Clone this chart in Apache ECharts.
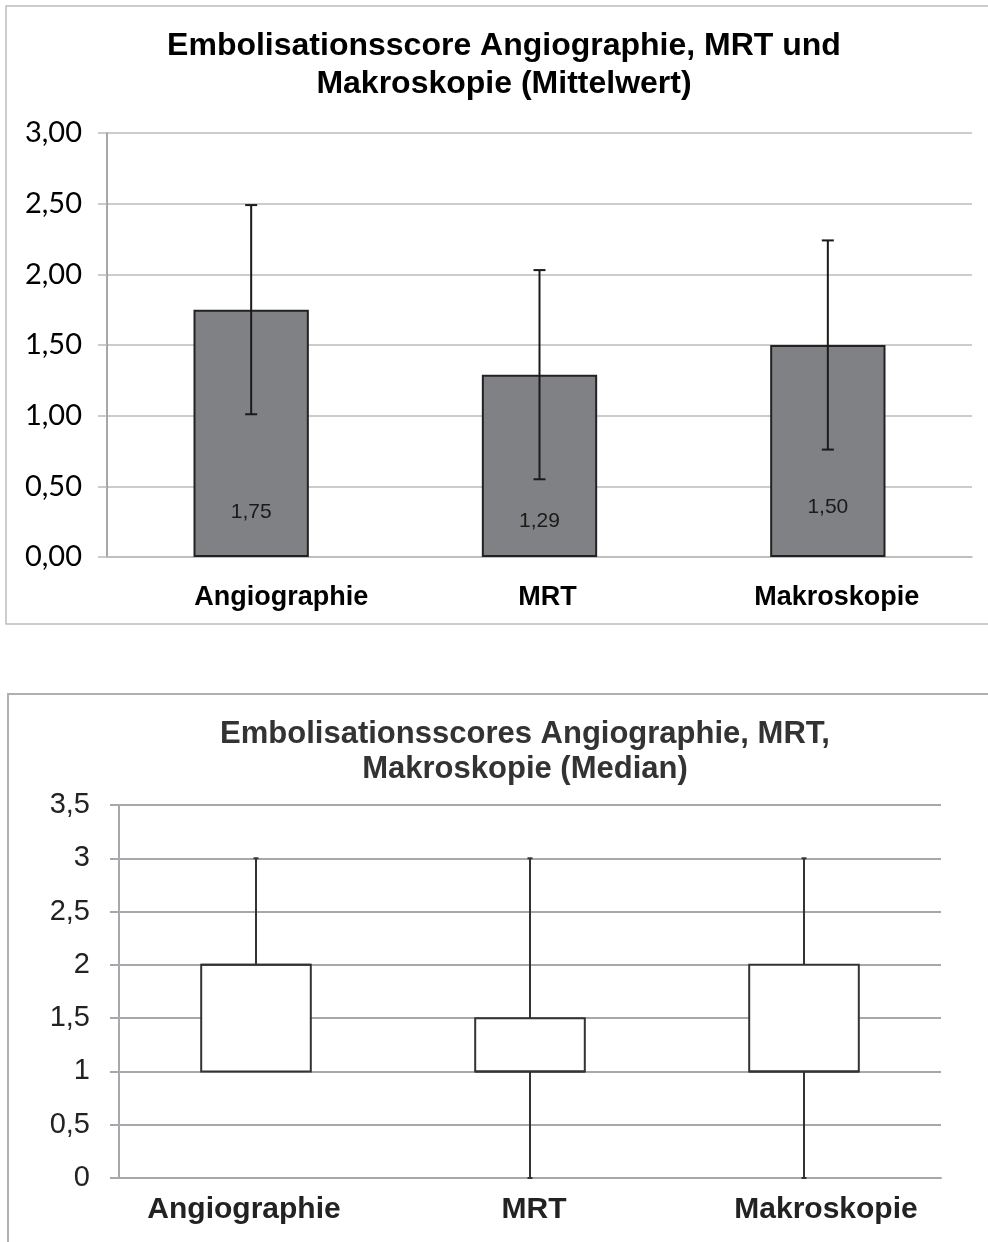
<!DOCTYPE html>
<html>
<head>
<meta charset="utf-8">
<script src="https://cdn.jsdelivr.net/npm/echarts@6/dist/echarts.min.js"></script>
<style>
html,body{margin:0;padding:0;background:#fff;}
#chart{width:988px;height:1242px;}
</style>
</head>
<body>
<div id="chart"></div>
<script>
// ---- data ----
const categories = ['Angiographie', 'MRT', 'Makroskopie'];
const meanValues = [1.75, 1.29, 1.50];
const errLow = [1.01, 0.55, 0.76];
const errHigh = [2.49, 2.03, 2.24];
const meanTicks = [0, 0.5, 1, 1.5, 2, 2.5, 3];

const boxMin = [1, 0, 0];
const boxQ1 = [1, 1, 1];
const boxMedian = [2, 1, 1];
const boxQ3 = [2, 1.5, 2];
const boxMax = [3, 3, 3];
const medianTicks = [0, 0.5, 1, 1.5, 2, 2.5, 3, 3.5];

const titleTop = ['Embolisationsscore Angiographie, MRT und', 'Makroskopie (Mittelwert)'];
const titleBottom = ['Embolisationsscores Angiographie, MRT,', 'Makroskopie (Median)'];

// label placement tweaks (layout only)
const labelLift = [34, 25, 39];
const catShiftTop = [30, 8, 9];
const catShiftBottom = [-12, 4, 22];

const chart = echarts.init(document.getElementById('chart'), null, {renderer: 'canvas'});

const fmt2 = v => v.toFixed(2).replace('.', ',');
const fmtS = v => String(v).replace('.', ',');
const ARIAL = '"Liberation Sans", Arial, sans-serif';
const shifted = (shifts) => categories.map((c, i) => ({
  value: c,
  textStyle: {padding: shifts[i] >= 0 ? [0, 0, 0, 2 * shifts[i]] : [0, -2 * shifts[i], 0, 0]}
}));

const option = {
  backgroundColor: '#fff',
  animation: false,
  graphic: [
    {type: 'rect', shape: {x: 6, y: 6, width: 1000, height: 618}, style: {fill: 'none', stroke: '#bdbdbd', lineWidth: 1.5}, z: 0},
    {type: 'rect', shape: {x: 8, y: 694, width: 1000, height: 600}, style: {fill: 'none', stroke: '#b0b0b4', lineWidth: 2}, z: 0},
    {type: 'text', x: 504, y: 46, style: {text: titleTop[0], textAlign: 'center', textVerticalAlign: 'middle', font: 'bold 32px ' + ARIAL, fill: '#000'}},
    {type: 'text', x: 504, y: 84, style: {text: titleTop[1], textAlign: 'center', textVerticalAlign: 'middle', font: 'bold 32px ' + ARIAL, fill: '#000'}},
    {type: 'text', x: 525, y: 734, style: {text: titleBottom[0], textAlign: 'center', textVerticalAlign: 'middle', font: 'bold 31px ' + ARIAL, fill: '#333'}},
    {type: 'text', x: 525, y: 769, style: {text: titleBottom[1], textAlign: 'center', textVerticalAlign: 'middle', font: 'bold 31px ' + ARIAL, fill: '#333'}}
  ],
  grid: [
    {left: 107, right: 16, top: 133, height: 424},
    {left: 119, right: 47, top: 805, height: 373}
  ],
  xAxis: [
    {
      type: 'category', gridIndex: 0, data: shifted(catShiftTop),
      axisLine: {show: true, lineStyle: {color: '#bbbbbb', width: 1.5}},
      axisTick: {show: false},
      axisLabel: {margin: 27, color: '#000', fontWeight: 'bold', fontSize: 27, fontFamily: ARIAL}
    },
    {
      type: 'category', gridIndex: 1, data: shifted(catShiftBottom),
      axisLine: {show: true, lineStyle: {color: '#a8a8ac', width: 2}},
      axisTick: {show: false},
      axisLabel: {margin: 17, color: '#222', fontWeight: 'bold', fontSize: 30, fontFamily: ARIAL}
    }
  ],
  yAxis: [
    {
      type: 'value', gridIndex: 0, min: 0, max: 3, interval: 0.5,
      axisLine: {show: true, lineStyle: {color: '#8a8a8a', width: 1.5}},
      axisTick: {show: true, length: 9, lineStyle: {color: '#bbbbbb', width: 1.5}},
      splitLine: {show: true, lineStyle: {color: '#bbbbbb', width: 1.5}},
      axisLabel: {margin: 25, color: '#000', fontSize: 29, fontFamily: 'Lato, "Open Sans", sans-serif', formatter: fmt2,
        customValues: meanTicks}
    },
    {
      type: 'value', gridIndex: 1, min: 0, max: 3.5, interval: 0.5,
      axisLine: {show: true, lineStyle: {color: '#a8a8ac', width: 2}},
      axisTick: {show: true, length: 9, lineStyle: {color: '#a8a8ac', width: 2}},
      splitLine: {show: true, lineStyle: {color: '#a8a8ac', width: 2}},
      axisLabel: {margin: 29, color: '#222', fontSize: 29, fontFamily: ARIAL, formatter: fmtS,
        customValues: medianTicks}
    }
  ],
  series: [
    {
      type: 'bar', xAxisIndex: 0, yAxisIndex: 0, barWidth: '40%',
      itemStyle: {color: '#808184', borderColor: '#222', borderWidth: 2},
      data: meanValues.map((v, i) => ({
        value: v,
        label: {show: true, position: 'insideBottom', distance: labelLift[i], formatter: p => fmt2(p.value),
          color: '#1a1a1a', fontSize: 21, fontFamily: ARIAL}
      })),
      z: 2
    },
    {
      type: 'custom', xAxisIndex: 0, yAxisIndex: 0, z: 5,
      data: categories.map((c, i) => [i, errLow[i], errHigh[i]]),
      renderItem: function (params, api) {
        const lo = api.coord([api.value(0), api.value(1)]);
        const hi = api.coord([api.value(0), api.value(2)]);
        const cap = 6;
        const st = {stroke: '#1a1a1a', lineWidth: 2};
        return {type: 'group', children: [
          {type: 'line', shape: {x1: lo[0], y1: lo[1], x2: hi[0], y2: hi[1]}, style: st},
          {type: 'line', shape: {x1: lo[0] - cap, y1: lo[1], x2: lo[0] + cap, y2: lo[1]}, style: st},
          {type: 'line', shape: {x1: hi[0] - cap, y1: hi[1], x2: hi[0] + cap, y2: hi[1]}, style: st}
        ]};
      }
    },
    {
      type: 'custom', xAxisIndex: 1, yAxisIndex: 1, z: 5,
      data: categories.map((c, i) => [i, boxMin[i], boxQ1[i], boxMedian[i], boxQ3[i], boxMax[i]]),
      renderItem: function (params, api) {
        const i = api.value(0);
        const pMin = api.coord([i, api.value(1)]);
        const pQ1 = api.coord([i, api.value(2)]);
        const pMed = api.coord([i, api.value(3)]);
        const pQ3 = api.coord([i, api.value(4)]);
        const pMax = api.coord([i, api.value(5)]);
        const bw = api.size([1, 0])[0] * 0.4;
        const x = pQ1[0];
        const st = {stroke: '#333', lineWidth: 2};
        const cap = 2.5;
        const children = [];
        if (pMax[1] < pQ3[1]) {
          children.push({type: 'line', shape: {x1: x, y1: pQ3[1], x2: x, y2: pMax[1]}, style: st});
          children.push({type: 'line', shape: {x1: x - cap, y1: pMax[1], x2: x + cap, y2: pMax[1]}, style: st});
        }
        if (pMin[1] > pQ1[1]) {
          children.push({type: 'line', shape: {x1: x, y1: pQ1[1], x2: x, y2: pMin[1]}, style: st});
          children.push({type: 'line', shape: {x1: x - cap, y1: pMin[1], x2: x + cap, y2: pMin[1]}, style: st});
        }
        children.push({type: 'rect', shape: {x: x - bw / 2, y: pQ3[1], width: bw, height: pQ1[1] - pQ3[1]},
          style: {fill: '#fff', stroke: '#333', lineWidth: 2}});
        children.push({type: 'line', shape: {x1: x - bw / 2, y1: pMed[1], x2: x + bw / 2, y2: pMed[1]}, style: st});
        return {type: 'group', children: children};
      }
    }
  ]
};

chart.setOption(option);
</script>
</body>
</html>
